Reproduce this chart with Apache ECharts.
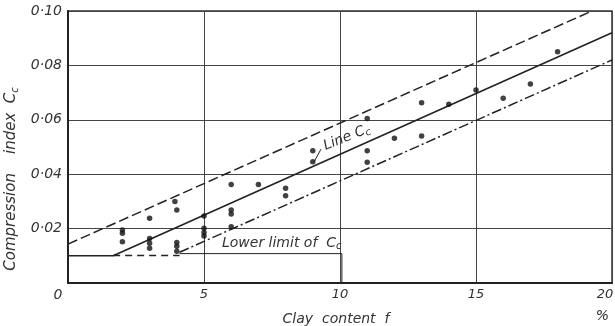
<!DOCTYPE html>
<html>
<head>
<meta charset="utf-8">
<script src="https://cdn.jsdelivr.net/npm/echarts@6/dist/echarts.min.js"></script>
<style>
  html, body { margin: 0; padding: 0; background: #fff; }
  #chart { width: 615px; height: 326px; }
</style>
</head>
<body>
<div id="chart"></div>
<script>
  // measured points: clay content f (%) vs compression index Cc
  const clayContent = [2, 2, 2, 3, 3, 3, 3, 3.93, 4, 4, 4, 4, 5, 5, 5, 5, 6, 6, 6, 6, 7, 8, 8, 9, 9, 11, 11, 11, 12, 13, 13, 14, 15, 16, 17, 18]
  const compressionIndex = [0.0195, 0.0183, 0.0152, 0.0238, 0.0164, 0.0146, 0.0128, 0.0300, 0.0268, 0.0149, 0.0135, 0.0117,
    0.0246, 0.0201, 0.0186, 0.0173, 0.0362, 0.0268, 0.0254, 0.0207, 0.0362, 0.0348, 0.0321, 0.0486, 0.0446,
    0.0605, 0.0486, 0.0444, 0.0532, 0.0663, 0.0540, 0.0657, 0.0710, 0.0679, 0.0732, 0.0850]

  // reference lines [f, Cc]
  const lineCc = [[0, 0.01], [1.66, 0.01], [20, 0.092]]
  const upperBand = [[0, 0.0143], [19.26, 0.1]]
  const lowerBand = [[4.1, 0.0113], [20, 0.082]]
  const floorDashed = [[1.66, 0.0101], [4.1, 0.0101]]
  const lowerLimit = [[4.1, 0.0108], [10.07, 0.0108], [10.07, 0]]
  const leader = [[9.05, 0.0446], [9.3, 0.0492]]

  // tick values
  const xTicks = [0, 5, 10, 15, 20]
  const yTicks = [0, 0.02, 0.04, 0.06, 0.08, 0.1]

  const ink = '#222'
  const font = 'DejaVu Sans'

  const chart = echarts.init(document.getElementById('chart'))

  const lineSeries = (name, data, type, width) => ({
    name: name,
    type: 'line',
    data: data,
    symbol: 'none',
    silent: true,
    lineStyle: { color: ink, width: width, type: type },
    z: 3,
  })

  const subStyle = { fontFamily: font, fontStyle: 'italic', fontSize: 10, color: '#333', padding: [7, 0, 0, 0] }

  const option = {
    animation: false,
    backgroundColor: '#fff',
    grid: {
      left: 68,
      right: 3,
      top: 11,
      bottom: 43,
      outerBoundsMode: 'none',
      containLabel: false,
      show: true,
      borderColor: '#333',
      borderWidth: 1.5,
    },
    xAxis: {
      type: 'value',
      min: xTicks[0],
      max: xTicks[xTicks.length - 1],
      interval: 5,
      name: 'Clay  content  f',
      nameLocation: 'middle',
      nameGap: 29,
      nameTextStyle: { fontFamily: font, fontStyle: 'italic', fontSize: 14, color: '#333', padding: [0, 8, 0, 0] },
      axisLine: { show: true, lineStyle: { color: '#222', width: 2 } },
      axisTick: { show: false },
      splitLine: { show: true, lineStyle: { color: '#444', width: 1 } },
      axisLabel: {
        margin: 5,
        fontFamily: font,
        fontStyle: 'italic',
        fontSize: 13,
        color: '#333',
        formatter: v => v === 0 ? '{o|0}' : v === 20 ? '{e|20}' : String(v),
        rich: {
          o: { fontFamily: font, fontStyle: 'italic', fontSize: 14, color: '#333', padding: [0, 20, 0, 0] },
          e: { fontFamily: font, fontStyle: 'italic', fontSize: 13, color: '#333', padding: [0, 14, 0, 0] },
        },
      },
    },
    yAxis: {
      type: 'value',
      min: yTicks[0],
      max: yTicks[yTicks.length - 1],
      interval: 0.02,
      name: 'Compression    index  C{s|c}',
      nameLocation: 'middle',
      nameGap: 42,
      nameTextStyle: {
        fontFamily: font, fontStyle: 'italic', fontSize: 15, color: '#333',
        padding: [0, 64, 0, 0],
        rich: { s: subStyle },
      },
      axisLine: { show: true, lineStyle: { color: '#222', width: 2 } },
      axisTick: { show: false },
      splitLine: { show: true, lineStyle: { color: '#444', width: 1 } },
      axisLabel: {
        margin: 6,
        fontFamily: font,
        fontStyle: 'italic',
        fontSize: 14,
        color: '#333',
        padding: [4, 0, 0, 0],
        formatter: v => v === 0 ? '' : v.toFixed(2).replace('.', '·'),
      },
    },
    graphic: [
      {
        type: 'text',
        right: 6,
        top: 309,
        style: { text: '%', font: 'italic 14px "DejaVu Sans"', fill: '#333' },
      },
    ],
    series: [
      lineSeries('Upper band', upperBand, [10, 4], 1.5),
      Object.assign(lineSeries('Line Cc', lineCc, 'solid', 1.6), {
        markPoint: {
          symbolSize: 0,
          silent: true,
          data: [
            {
              coord: [10.25, 0.0535],
              label: {
                show: true,
                position: 'inside',
                rotate: 22,
                formatter: 'Line C{s|c}',
                fontFamily: font,
                fontStyle: 'italic',
                fontSize: 14,
                color: '#333',
                rich: { s: subStyle },
              },
            },
            {
              coord: [5.66, 0.0146],
              label: {
                show: true,
                position: 'right',
                distance: 0,
                formatter: 'Lower limit of  C{s|c}',
                fontFamily: font,
                fontStyle: 'italic',
                fontSize: 14,
                color: '#333',
                rich: { s: subStyle },
              },
            },
          ],
        },
      }),
      lineSeries('Floor', floorDashed, [7, 5], 1.5),
      lineSeries('Lower band', lowerBand, [10, 3, 2, 3], 1.5),
      lineSeries('Lower limit', lowerLimit, 'solid', 1),
      lineSeries('Leader', leader, 'solid', 1),
      {
        name: 'Tests',
        type: 'scatter',
        data: clayContent.map((f, i) => [f, compressionIndex[i]]),
        symbol: 'circle',
        symbolSize: 5.5,
        itemStyle: { color: '#111' },
        z: 5,
      },
    ],
  }

  chart.setOption(option)
</script>
</body>
</html>
